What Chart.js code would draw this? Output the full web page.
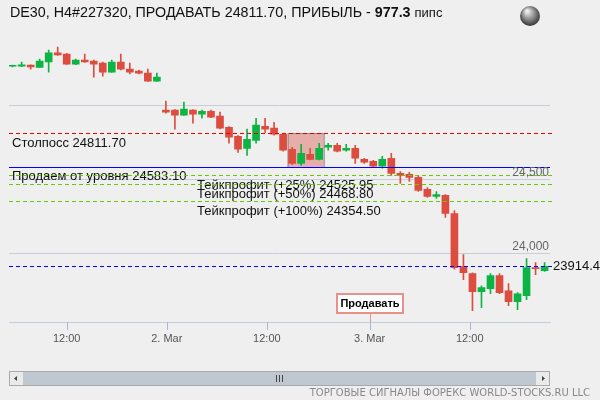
<!DOCTYPE html>
<html>
<head>
<meta charset="utf-8">
<script src="https://cdn.jsdelivr.net/npm/chart.js@4.4.1/dist/chart.umd.min.js"></script>
<style>
  html, body { margin: 0; padding: 0; background: #efefef; }
  #wrap { width: 600px; height: 400px; position: relative; }
</style>
</head>
<body>
<div id="wrap"><canvas id="chart" width="600" height="400"></canvas></div>
<script>
// candle data
const opens = [25262, 25262, 25270, 25255, 25291, 25352, 25345, 25277, 25304, 25297,
  25284, 25223, 25291, 25243, 25230, 25216, 25162, 24966, 24966, 24932,
  24966, 24939, 24959, 24926, 24851, 24790, 24709, 24763, 24858, 24845,
  24804, 24703, 24608, 24669, 24635, 24716, 24730, 24696, 24709, 24635,
  24621, 24588, 24642, 24540, 24534, 24513, 24432, 24385, 24392, 24270,
  23912, 23864, 23743, 23763, 23851, 23749, 23675, 23716, 23905, 23885];
const highs = [25270, 25291, 25272, 25310, 25372, 25392, 25350, 25310, 25345, 25304,
  25290, 25304, 25345, 25284, 25237, 25243, 25216, 25027, 24970, 25020,
  24970, 24966, 24966, 24953, 24855, 24795, 24838, 24912, 24912, 24885,
  24810, 24716, 24736, 24709, 24743, 24743, 24743, 24736, 24730, 24642,
  24628, 24655, 24675, 24553, 24547, 24527, 24445, 24418, 24398, 24290,
  23993, 23870, 23783, 23864, 23864, 23797, 23736, 23966, 23939, 23939];
const lows = [25257, 25260, 25243, 25253, 25223, 25335, 25274, 25272, 25288, 25189,
  25196, 25220, 25237, 25210, 25210, 25160, 25160, 24946, 24838, 24930,
  24878, 24912, 24915, 24840, 24743, 24682, 24662, 24743, 24817, 24798,
  24690, 24601, 24594, 24630, 24630, 24696, 24685, 24689, 24608, 24608,
  24580, 24575, 24527, 24473, 24486, 24418, 24378, 24371, 24243, 23895,
  23824, 23614, 23635, 23729, 23729, 23648, 23621, 23689, 23858, 23880];
const closes = [25266, 25272, 25257, 25297, 25352, 25338, 25277, 25304, 25291, 25277,
  25223, 25291, 25243, 25223, 25216, 25162, 25189, 24953, 24932, 24973,
  24939, 24959, 24919, 24845, 24784, 24703, 24770, 24865, 24838, 24804,
  24696, 24608, 24675, 24635, 24709, 24730, 24689, 24709, 24642, 24615,
  24588, 24635, 24540, 24527, 24513, 24425, 24385, 24398, 24270, 23905,
  23871, 23743, 23770, 23851, 23736, 23675, 23729, 23905, 23898, 23914.4];

const timeTickPos = [6.0, 17.1, 28.2, 39.6, 50.7];
const timeTickLabels = ["12:00", "2. Mar", "12:00", "3. Mar", "12:00"];
const priceGrid = [24000, 24500, 25000];
const priceGridLabels = ["24,000", "24,500", ""];

const stopLoss = 24811.70;
const entryLevel = 24583.10;
const takeProfits = [24525.95, 24468.80, 24354.50];
const takeProfitLabels = ["Тейкпрофит (+25%) 24525.95", "Тейкпрофит (+50%) 24468.80", "Тейкпрофит (+100%) 24354.50"];
const lastPrice = 23914.4;
const sellIndex = 39.6;
const boxRange = [30.5, 34.5];

const RED = "#dc4d3f", GREEN = "#0cb443";
const idx = opens.map((_, i) => i);
const colors = idx.map(i => closes[i] >= opens[i] ? GREEN : RED);

const overlay = {
  id: "overlay",
  beforeDatasetsDraw(chart) {
    const { ctx, scales: { x, y } } = chart;
    ctx.save();
    // entry zone box
    const bx1 = x.getPixelForValue(boxRange[0]), bx2 = x.getPixelForValue(boxRange[1]);
    const by1 = y.getPixelForValue(stopLoss), by2 = y.getPixelForValue(entryLevel);
    ctx.fillStyle = "rgba(220,110,100,0.5)";
    ctx.fillRect(bx1, by1, bx2 - bx1, by2 - by1);
    ctx.strokeStyle = "#888";
    ctx.lineWidth = 1;
    ctx.strokeRect(bx1 + 0.5, by1 + 0.5, bx2 - bx1, by2 - by1);
    ctx.restore();
  },
  afterDatasetsDraw(chart) {
    const { ctx, chartArea: a, scales: { x, y } } = chart;
    ctx.save();
    // horizontal level, drawn as 1px rects so colour stays crisp
    const hline = (v, color, dashed) => {
      const py = Math.round(y.getPixelForValue(v));
      ctx.fillStyle = color;
      if (!dashed) ctx.fillRect(a.left, py, a.right - a.left, 1);
      else for (let px = a.left; px < a.right; px += 7) ctx.fillRect(px, py, 4, 1);
      return py;
    };
    ctx.font = "13px 'Liberation Sans', Arial, sans-serif";
    ctx.textBaseline = "middle";
    let py = hline(stopLoss, "#ee0000", true);
    ctx.fillStyle = "#111";
    ctx.fillText("Столпосс 24811.70", 12, py + 10);
    py = hline(entryLevel, "#0000ff", false);
    ctx.fillStyle = "#111";
    ctx.fillText("Продаем от уровня 24583.10", 12, py + 9);
    takeProfits.forEach((v, i) => {
      const p = hline(v, "#66cc00", true);
      ctx.fillStyle = "#111";
      ctx.fillText(takeProfitLabels[i], 197, p + 10);
    });
    py = hline(lastPrice, "#0000ff", true);
    ctx.fillStyle = "#111";
    ctx.fillText("23914.4", a.right + 3, py);
    // price labels
    ctx.font = "12px 'Liberation Sans', Arial, sans-serif";
    ctx.fillStyle = "#666";
    ctx.textAlign = "right";
    priceGrid.forEach((v, i) => {
      ctx.fillText(priceGridLabels[i], a.right - 1, y.getPixelForValue(v) - 7);
    });
    // sell marker
    const sx = Math.round(x.getPixelForValue(sellIndex));
    ctx.fillStyle = "#e8908a";
    ctx.fillRect(sx, 313, 1, a.bottom - 313);
    ctx.fillStyle = "#fff";
    ctx.fillRect(sx - 33, 294, 66, 19);
    ctx.strokeStyle = "#e8908a";
    ctx.lineWidth = 2;
    ctx.strokeRect(sx - 33, 294, 66, 19);
    ctx.fillStyle = "#000";
    ctx.textAlign = "center";
    ctx.font = "bold 11px 'Liberation Sans', Arial, sans-serif";
    ctx.fillText("Продавать", sx, 304);
    ctx.restore();
  },
  afterDraw(chart) {
    const { ctx, scales: { x } } = chart;
    ctx.save();
    // x tick marks
    ctx.fillStyle = "#a8b8d0";
    timeTickPos.forEach(v => ctx.fillRect(Math.round(x.getPixelForValue(v)), 322, 1, 8));
    // title
    ctx.textBaseline = "middle";
    ctx.fillStyle = "#111";
    ctx.font = "14.3px 'Liberation Sans', Arial, sans-serif";
    const t1 = "DE30, H4#227320, ПРОДАВАТЬ 24811.70, ПРИБЫЛЬ - ";
    ctx.fillText(t1, 10, 13);
    let w = ctx.measureText(t1).width;
    ctx.font = "bold 14.3px 'Liberation Sans', Arial, sans-serif";
    ctx.fillText("977.3", 10 + w, 13);
    w += ctx.measureText("977.3 ").width;
    ctx.font = "13px 'Liberation Sans', Arial, sans-serif";
    ctx.fillText("пипс", 10 + w, 13);
    // globe
    const g = ctx.createRadialGradient(527, 11, 1, 530, 15, 11);
    g.addColorStop(0, "#eee"); g.addColorStop(1, "#333");
    ctx.fillStyle = g;
    ctx.beginPath(); ctx.arc(530, 16, 10, 0, Math.PI * 2); ctx.fill();
    // scrollbar
    ctx.fillStyle = "#bfc7d0";
    ctx.fillRect(9, 371, 541, 15);
    ctx.fillStyle = "#eaeaea";
    ctx.fillRect(9, 371, 14, 15);
    ctx.fillRect(536, 371, 14, 15);
    ctx.strokeStyle = "#aaa"; ctx.lineWidth = 1;
    ctx.strokeRect(9.5, 371.5, 540, 14);
    ctx.fillStyle = "#444";
    ctx.beginPath(); ctx.moveTo(14, 378.5); ctx.lineTo(17, 376); ctx.lineTo(17, 381); ctx.fill();
    ctx.beginPath(); ctx.moveTo(545, 378.5); ctx.lineTo(542, 376); ctx.lineTo(542, 381); ctx.fill();
    ctx.fillRect(276, 375, 1, 7); ctx.fillRect(279, 375, 1, 7); ctx.fillRect(282, 375, 1, 7);
    // footer
    ctx.fillStyle = "#888";
    ctx.font = "10px 'DejaVu Sans', sans-serif";
    ctx.textAlign = "right";
    ctx.fillText("ТОРГОВЫЕ СИГНАЛЫ ФОРЕКС WORLD-STOCKS.RU LLC", 590, 393);
    ctx.restore();
  }
};

new Chart(document.getElementById("chart"), {
  type: "bar",
  data: {
    datasets: [
      {
        label: "wick",
        data: idx.map(i => ({ x: i, y: [lows[i], highs[i]] })),
        backgroundColor: colors,
        barThickness: 1,
        grouped: false,
        order: 2
      },
      {
        label: "body",
        data: idx.map(i => ({ x: i, y: [opens[i], closes[i]] })),
        backgroundColor: colors,
        barThickness: 7,
        minBarLength: 1,
        grouped: false,
        order: 1
      }
    ]
  },
  options: {
    responsive: false,
    animation: false,
    layout: { padding: { top: 28, right: 50, left: 9, bottom: 52 } },
    plugins: { legend: { display: false }, tooltip: { enabled: false } },
    scales: {
      x: {
        type: "linear",
        offset: false,
        min: -0.4,
        max: 59.6,
        afterBuildTicks: s => { s.ticks = timeTickPos.map(v => ({ value: v })); },
        ticks: {
          callback: (v, i) => timeTickLabels[i],
          color: "#555",
          font: { family: "'Liberation Sans', Arial, sans-serif", size: 11 },
          maxRotation: 0,
          autoSkip: false,
          padding: 2
        },
        grid: { offset: false, drawOnChartArea: false, tickLength: 8, color: "rgba(0,0,0,0)" },
        border: { color: "#c0cce0" }
      },
      y: {
        min: 23533,
        max: 25520,
        afterBuildTicks: s => { s.ticks = priceGrid.map(v => ({ value: v })); },
        ticks: { display: false },
        grid: { color: "#c8ced8", drawTicks: false },
        border: { display: false }
      }
    }
  },
  plugins: [overlay]
});
</script>
</body>
</html>
